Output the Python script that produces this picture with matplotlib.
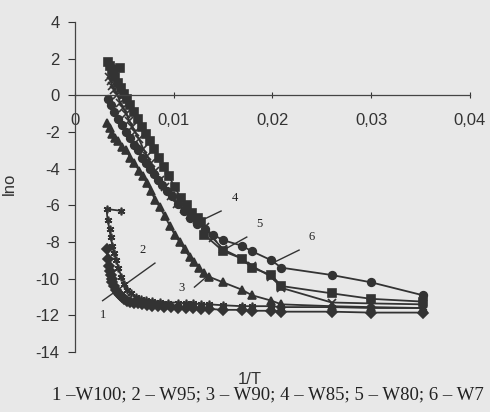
import matplotlib
matplotlib.use('Agg')
import matplotlib.pyplot as plt
from matplotlib.ticker import FuncFormatter

plt.rcParams['font.family'] = 'Liberation Sans'
plt.rcParams['axes.unicode_minus'] = False

# 1/T values and ln(sigma) for each sample
x1 = [0.0032, 0.0033, 0.0034, 0.0035, 0.0036, 0.0037, 0.0038, 0.0040, 0.0042, 0.0044,
      0.0046, 0.0048, 0.0050, 0.0053, 0.0056, 0.0060, 0.0064, 0.0068, 0.0073, 0.0078,
      0.0084, 0.0090, 0.0097, 0.0104, 0.0112, 0.0120, 0.0128, 0.0136, 0.0150, 0.0169,
      0.0179, 0.0199, 0.0209, 0.0260, 0.0300, 0.0352]
y1 = [-8.4, -8.9, -9.3, -9.6, -9.8, -10.0, -10.2, -10.4, -10.6, -10.8,
      -10.9, -11.0, -11.1, -11.2, -11.25, -11.3, -11.35, -11.4, -11.45, -11.5,
      -11.5, -11.55, -11.55, -11.6, -11.6, -11.6, -11.65, -11.65, -11.7, -11.7,
      -11.75, -11.75, -11.8, -11.8, -11.85, -11.85]

x2 = [0.0047, 0.0032, 0.0033, 0.0035, 0.0036, 0.0038, 0.0040, 0.0042, 0.0044, 0.0047,
      0.0050, 0.0053, 0.0057, 0.0062, 0.0067, 0.0072, 0.0078, 0.0086, 0.0094, 0.0104,
      0.0112, 0.0120, 0.0128, 0.0136, 0.0150, 0.0169, 0.0179, 0.0199, 0.0209, 0.0260,
      0.0300, 0.0352]
y2 = [-6.3, -6.2, -6.8, -7.3, -7.7, -8.2, -8.6, -9.0, -9.4, -9.9,
      -10.3, -10.6, -10.8, -11.0, -11.1, -11.15, -11.2, -11.25, -11.3, -11.3,
      -11.35, -11.35, -11.4, -11.4, -11.45, -11.5, -11.5, -11.5, -11.55, -11.55,
      -11.6, -11.6]

x3 = [0.0032, 0.0035, 0.0038, 0.0041, 0.0044, 0.0048, 0.0052, 0.0056, 0.0060, 0.0065,
      0.0069, 0.0073, 0.0077, 0.0081, 0.0086, 0.0091, 0.0096, 0.0101, 0.0106, 0.0111,
      0.0116, 0.0121, 0.0126, 0.0131, 0.0136, 0.0150, 0.0169, 0.0179, 0.0199, 0.0209,
      0.0260, 0.0300, 0.0352]
y3 = [-1.5, -1.8, -2.1, -2.3, -2.5, -2.8, -3.0, -3.4, -3.7, -4.1,
      -4.4, -4.8, -5.2, -5.7, -6.1, -6.6, -7.1, -7.6, -8.0, -8.4,
      -8.8, -9.1, -9.4, -9.7, -9.9, -10.2, -10.6, -10.9, -11.2, -11.4,
      -11.5, -11.55, -11.6]

x4 = [0.0034, 0.0036, 0.0038, 0.0040, 0.0043, 0.0046, 0.0049, 0.0052, 0.0055, 0.0058,
      0.0061, 0.0065, 0.0069, 0.0073, 0.0077, 0.0081, 0.0086, 0.0091, 0.0097, 0.0103,
      0.0110, 0.0117, 0.0124, 0.0132, 0.0140, 0.0150, 0.0169, 0.0179, 0.0199, 0.0209,
      0.0260, 0.0300, 0.0352]
y4 = [1.0, 0.8, 0.5, 0.3, 0.0, -0.4, -0.7, -1.0, -1.4, -1.7,
      -2.0, -2.4, -2.9, -3.3, -3.7, -4.1, -4.6, -5.0, -5.5, -5.9,
      -6.2, -6.5, -6.8, -7.2, -7.8, -8.4, -8.9, -9.3, -9.9, -10.5,
      -11.3, -11.35, -11.4]

x5 = [0.0046, 0.0033, 0.0035, 0.0037, 0.0039, 0.0041, 0.0044, 0.0047, 0.0050, 0.0053,
      0.0056, 0.0060, 0.0064, 0.0068, 0.0072, 0.0076, 0.0080, 0.0085, 0.0090, 0.0095,
      0.0101, 0.0107, 0.0113, 0.0119, 0.0125, 0.0128, 0.0131, 0.0150, 0.0169, 0.0179,
      0.0199, 0.0209, 0.0260, 0.0300, 0.0352]
y5 = [1.5, 1.8, 1.6, 1.4, 1.2, 1.0, 0.7, 0.4, 0.1, -0.2,
      -0.5, -0.9, -1.3, -1.7, -2.1, -2.5, -2.9, -3.4, -3.9, -4.4,
      -5.0, -5.6, -6.0, -6.4, -6.7, -6.9, -7.6, -8.5, -8.9, -9.4,
      -9.8, -10.4, -10.8, -11.1, -11.25]

x6 = [0.0033, 0.0036, 0.0040, 0.0044, 0.0048, 0.0052, 0.0056, 0.0060, 0.0064, 0.0068,
      0.0072, 0.0076, 0.0080, 0.0084, 0.0088, 0.0093, 0.0098, 0.0104, 0.0110, 0.0117,
      0.0124, 0.0132, 0.0140, 0.0150, 0.0169, 0.0179, 0.0199, 0.0209, 0.0260, 0.0300,
      0.0352]
y6 = [-0.2, -0.5, -0.9, -1.3, -1.6, -2.0, -2.3, -2.7, -3.0, -3.4,
      -3.7, -4.0, -4.3, -4.6, -4.9, -5.2, -5.5, -5.9, -6.3, -6.7,
      -7.0, -7.3, -7.6, -7.9, -8.2, -8.5, -9.0, -9.4, -9.8, -10.2,
      -10.9]

series = [(x1, y1, 'D'), (x2, y2, (6, 2, 0)), (x3, y3, '^'),
          (x4, y4, 'x'), (x5, y5, 's'), (x6, y6, 'o')]

xticks = [0, 0.01, 0.02, 0.03, 0.04]
yticks = [4, 2, 0, -2, -4, -6, -8, -10, -12, -14]

# curve numbers and their pointer lines
labels = ['1', '2', '3', '4', '5', '6']
label_x = [0.0028, 0.0068, 0.0108, 0.0162, 0.0187, 0.0240]
label_y = [-11.98, -8.44, -10.51, -5.60, -7.02, -7.73]
ptr_x = [[0.0028, 0.0081], [0.0121, 0.0133], [0.0148, 0.0129], [0.0174, 0.0152], [0.0227, 0.0200]]
ptr_y = [[-11.2, -9.15], [-10.46, -9.91], [-6.31, -6.80], [-7.73, -8.39], [-8.44, -9.15]]

caption = '1 \u2013W100; 2 \u2013 W95; 3 \u2013 W90; 4 \u2013 W85; 5 \u2013 W80; 6 \u2013 W7'

bg = '#e8e8e8'
ink = '#333333'

fig = plt.figure(figsize=(4.9, 4.12), dpi=100, facecolor=bg)
ax = fig.add_axes([0.153, 0.1456, 0.806, 0.801])
ax.set_facecolor(bg)

for xs, ys, m in series:
    ax.plot(xs, ys, color=ink, lw=1.3, marker=m, markersize=5.5,
            markerfacecolor=ink, markeredgecolor=ink, markeredgewidth=1.2)

for px, py in zip(ptr_x, ptr_y):
    ax.plot(px, py, color=ink, lw=1.0)
for t, lx, ly in zip(labels, label_x, label_y):
    ax.text(lx, ly, t, fontsize=9, family='Liberation Serif', color='#222222',
            ha='center', va='center')

ax.set_xlim(0, 0.04)
ax.set_ylim(-14, 4)
ax.spines['bottom'].set_position(('data', 0))
ax.spines['top'].set_visible(False)
ax.spines['right'].set_visible(False)
for s in ['left', 'bottom']:
    ax.spines[s].set_color('#444444')
    ax.spines[s].set_linewidth(0.9)

ax.set_xticks(xticks)
ax.set_yticks(yticks)
ax.xaxis.set_major_formatter(FuncFormatter(
    lambda v, p: '0' if v == 0 else ('%.2f' % v).replace('.', ',')))
ax.tick_params(axis='x', direction='inout', length=5, pad=10, labelsize=12,
               colors='#333333')
ax.tick_params(axis='y', direction='out', length=5, pad=6, labelsize=12,
               colors='#333333')

ax.set_ylabel('lno', fontsize=12, color='#333333')
ax.yaxis.set_label_coords(-0.148, 0.51)

fig.text(250 / 490, 1 - 379 / 412, '1/T', fontsize=12, color='#333333',
         ha='center', va='center')
fig.text(52 / 490, 1 - 395 / 412, caption, fontsize=13.5, family='Liberation Serif',
         color='#222222', ha='left', va='center')

fig.savefig('out.png', dpi=100, facecolor=bg)
